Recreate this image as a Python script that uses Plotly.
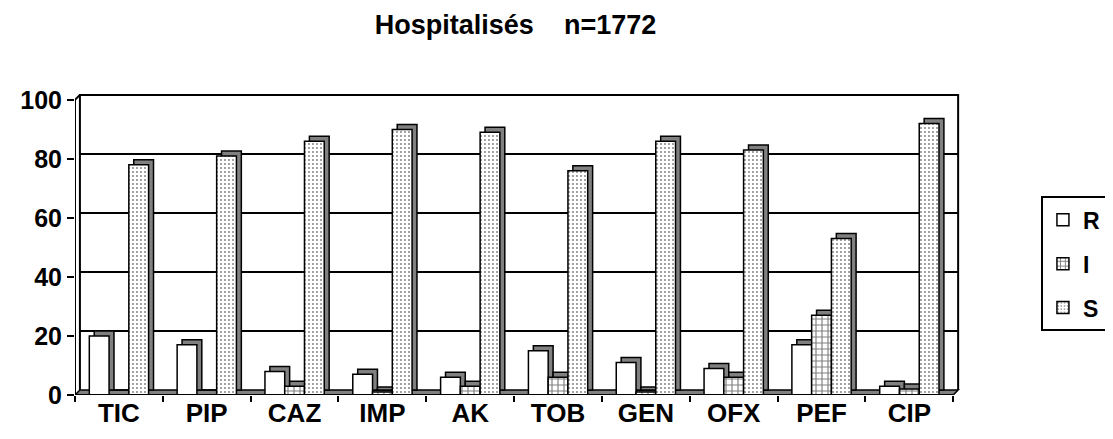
import plotly.graph_objects as go

categories = ["TIC", "PIP", "CAZ", "IMP", "AK", "TOB", "GEN", "OFX", "PEF", "CIP"]
R = [20, 17, 8, 7, 6, 15, 11, 9, 17, 3]
I = [0, 0, 3, 1, 3, 6, 1, 6, 27, 2]
S = [78, 81, 86, 90, 89, 76, 86, 83, 53, 92]
y_ticks = [0, 20, 40, 60, 80, 100]
title_text = "Hospitalisés\u00a0\u00a0\u00a0\u00a0n=1772"

x = list(range(len(categories)))
W = 0.225
DX = 0.056   # depth, x units
DY = 1.7     # depth, y units
FONT = "Liberation Sans, Arial, sans-serif"

series = [
    ("R", R, -0.337, dict(color="white")),
    ("I", I, -0.112, dict(color="white", pattern=dict(shape="+", fgcolor="black", bgcolor="white", size=6, solidity=0.35))),
    ("S", S, 0.113, dict(color="white", pattern=dict(shape=".", fgcolor="black", bgcolor="white", size=4, solidity=0.18))),
]

fig = go.Figure()

# side/top faces (3D depth)
for name, vals, off, mk in series:
    fig.add_trace(go.Bar(
        x=x, y=vals, base=DY, offset=off + DX, width=W,
        marker=dict(color="#808080", line=dict(color="black", width=1.5)),
        showlegend=False, hoverinfo="skip",
    ))

# front faces
for k, (name, vals, off, mk) in enumerate(series):
    fig.add_trace(go.Bar(
        x=x, y=vals, offset=off, width=W, name=name,
        marker=dict(**mk, line=dict(color="black", width=1.5)),
        legendgroup=name,
    ))

shapes = []
# floor
shapes.append(dict(type="path", xref="x", yref="y", layer="below",
                   path=f"M -0.5,0 L 9.5,0 L {9.5+DX},{DY} L {-0.5+DX},{DY} Z",
                   fillcolor="#808080", line=dict(color="black", width=1.5)))
# back wall gridlines
for v in y_ticks[1:-1]:
    shapes.append(dict(type="line", xref="x", yref="y", layer="below",
                       x0=-0.5 + DX, x1=9.5 + DX, y0=v + DY, y1=v + DY,
                       line=dict(color="black", width=2)))
# back wall frame
shapes.append(dict(type="path", xref="x", yref="y", layer="below",
                   path=f"M {-0.5+DX},{DY} L {-0.5+DX},{100+DY} L {9.5+DX},{100+DY} L {9.5+DX},{DY}",
                   line=dict(color="black", width=2)))
# left wall (front axis edge + top diagonal)
shapes.append(dict(type="path", xref="x", yref="y", layer="below",
                   path=f"M -0.5,0 L -0.5,100 L {-0.5+DX},{100+DY}",
                   line=dict(color="black", width=2)))
# front floor edge
shapes.append(dict(type="line", xref="x", yref="y", layer="above",
                   x0=-0.5, x1=9.5, y0=0, y1=0, line=dict(color="black", width=2)))

fig.update_layout(
    width=1113, height=439,
    margin=dict(l=57, r=159, t=86, b=52),
    paper_bgcolor="white", plot_bgcolor="white",
    barmode="overlay",
    shapes=shapes,
    title=dict(text=title_text, x=0.456, xref="container", y=0.962, yref="container",
               xanchor="center", yanchor="middle",
               font=dict(family=FONT, size=27, color="black", weight="bold")),
    legend=dict(x=1.089, xanchor="left", y=0.66, yanchor="top",
                bordercolor="black", borderwidth=2, bgcolor="white",
                font=dict(family=FONT, size=23, color="black", weight="bold"),
                tracegroupgap=11, itemwidth=30),
    showlegend=True,
)
fig.update_xaxes(range=[-0.5, 9.6], tickvals=x, ticktext=categories,
                 ticks="", showgrid=False, zeroline=False, showline=False,
                 tickfont=dict(family=FONT, size=26, color="black", weight="bold"),
                 minor=dict(tickvals=[i - 0.5 for i in range(len(categories) + 1)],
                            ticks="outside", ticklen=6, tickwidth=2, tickcolor="black"),
                 fixedrange=True)
fig.update_yaxes(range=[0, 102], tickvals=y_ticks, ticks="outside", ticklen=7,
                 tickwidth=2, tickcolor="black", showgrid=False, zeroline=False,
                 showline=False,
                 tickfont=dict(family=FONT, size=25, color="black", weight="bold"),
                 fixedrange=True)

fig.write_html("out.html")
